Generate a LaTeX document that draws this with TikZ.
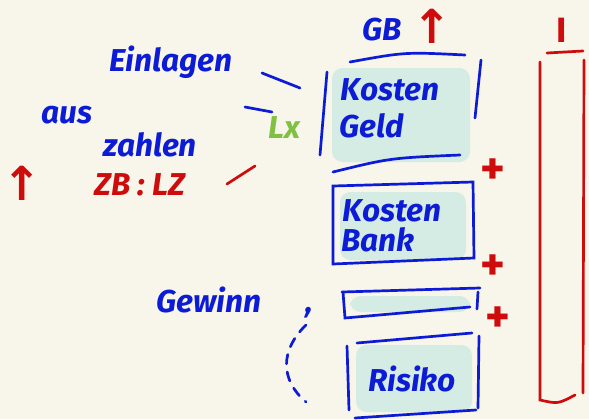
\documentclass[tikz,border=0pt]{standalone}
\usepackage{fontspec}
\setmainfont{Fira Sans}
\newfontfamily\arrowfont{DejaVu Sans}
\definecolor{penblue}{RGB}{12,28,214}
\definecolor{penred}{RGB}{206,12,12}
\definecolor{pengreen}{RGB}{128,192,66}
\definecolor{paper}{RGB}{248,245,234}
\definecolor{wash}{RGB}{212,236,228}

\begin{document}
\begin{tikzpicture}[x=0.03cm,y=-0.03cm,
    pen/.style={line width=2.3pt,line cap=round},
    hand/.style={font=\fontsize{27}{29}\selectfont\bfseries\itshape,inner sep=0pt},
    mark sign/.style={font=\fontsize{40}{40}\selectfont\bfseries,text=penred,inner sep=0pt},
    up sign/.style={font=\fontsize{40}{40}\selectfont\arrowfont\bfseries,text=penred,inner sep=0pt},
    blob/.style={fill=wash,rounded corners=9pt}]
   \fill[paper] (0,0) rectangle (589,419);
   \useasboundingbox (0,0) rectangle (589,419);

   % washes behind the boxes
   \fill[blob] (332,68) rectangle (470,162);
   \fill[blob] (340,192) rectangle (466,260);
   \fill[blob] (350,296) rectangle (470,312);
   \fill[blob] (356,345) rectangle (472,412);

   % top labels
   \draw (382,30) node[hand,penblue] (gb) {GB};
   \draw (432,26) node[up sign] (gbup) {↑};
   \draw (562,30) node[mark sign,font=\fontsize{30}{30}\selectfont\bfseries] (total) {I};

   % Kosten Geld
   \draw[pen,penblue] (350,62) .. controls (405,52) .. (465,55);
   \draw[pen,penblue] (327,72) -- (320,155);
   \draw[pen,penblue] (481,60) -- (475,118);
   \draw[pen,penblue] (333,172) .. controls (390,158) .. (460,155);
   \draw (390,90) node[hand,penblue] (kosten1) {Kosten};
   \draw (372,126) node[hand,penblue] (geld) {Geld};
   \draw (493,172) node[mark sign] (plus1) {+};

   % Kosten Bank
   \draw[pen,penblue] (333,186) -- (473,182) -- (474,258) -- (333,264) -- cycle;
   \draw (392,211) node[hand,penblue] (kosten2) {Kosten};
   \draw (378,240) node[hand,penblue] (bank) {Bank};
   \draw (493,268) node[mark sign] (plus2) {+};

   % Gewinn
   \draw[pen,penblue] (342,292) -- (480,288);
   \draw[pen,penblue] (343,292) -- (345,318) -- (470,307);
   \draw[pen,penblue] (478,292) -- (477,309);
   \draw (498,320) node[mark sign] (plus3) {+};
   \draw (209,300) node[hand,penblue] (gewinn) {Gewinn};
   \draw (309,313) node[hand,penblue] (komma) {,};

   % Risiko
   \draw[pen,penblue] (357,343) -- (472,333);
   \draw[pen,penblue] (347,346) -- (349,410);
   \draw[pen,penblue] (479,336) -- (478,408);
   \draw[pen,penblue] (355,418) -- (476,410);
   \draw (412,379) node[hand,penblue] (risiko) {Risiko};
   \coordinate (curveA) at (306,325);
   \coordinate (curveB) at (306,402);
   \draw[pen,penblue,dash pattern=on 8pt off 7pt] (curveA) .. controls (280,350) and (280,380) .. (curveB);

   % right bracket
   \draw[pen,penred] (547,53) -- (583,51);
   \draw[pen,penred] (540,62) -- (540,400) .. controls (558,404) .. (575,395);
   \draw[pen,penred] (584,60) -- (583,393);

   % left side
   \draw (171,62) node[hand,penblue] (einlagen) {Einlagen};
   \draw (67,115) node[hand,penblue] (aus) {aus};
   \draw (150,145) node[hand,penblue] (zahlen) {zahlen};
   \draw (284,128) node[hand,pengreen] (lx) {Lx};
   \draw (22,183) node[up sign] (up) {↑};
   \draw (140,185) node[hand,penred] (zblz) {ZB : LZ};

   \coordinate (dashA1) at (262,73);  \coordinate (dashA2) at (300,88);
   \coordinate (dashB1) at (245,107); \coordinate (dashB2) at (272,112);
   \coordinate (dashC1) at (227,184); \coordinate (dashC2) at (255,166);
   \draw[pen,penblue] (dashA1) -- (dashA2);
   \draw[pen,penblue] (dashB1) -- (dashB2);
   \draw[pen,penred] (dashC1) -- (dashC2);
\end{tikzpicture}
\end{document}
